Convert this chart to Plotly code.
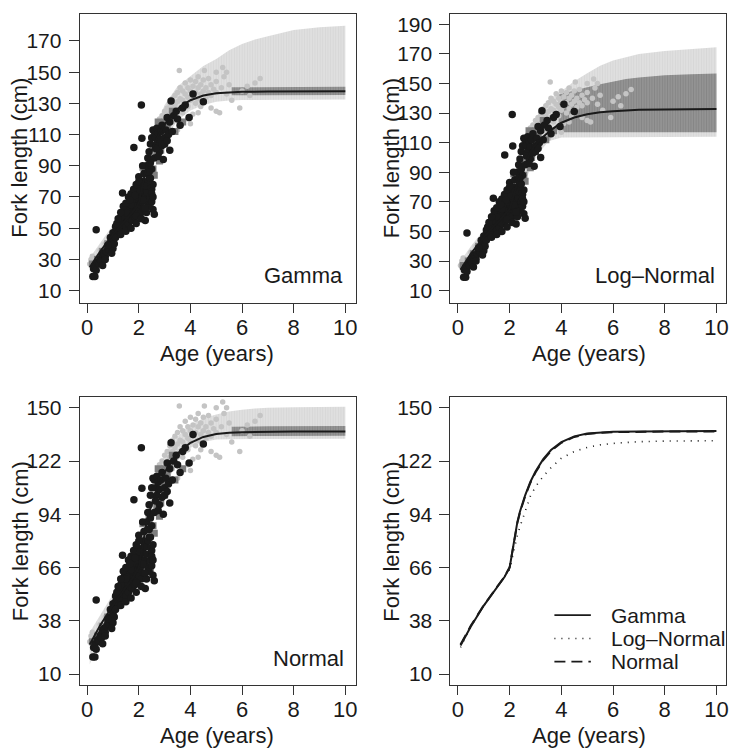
import plotly.graph_objects as go

# ---------------- data ----------------
CURVE_AGE = [0.1, 0.5, 1.0, 1.5, 1.8, 2.0, 2.1, 2.2, 2.3, 2.4, 2.6, 2.8, 3.0, 3.3, 3.6,
             4.0, 4.5, 5.0, 5.5, 6.0, 7.0, 8.0, 10.0]
GAMMA_MEAN = [25, 35, 46, 55.5, 61, 66, 74, 83, 90, 95.5, 104, 111, 116.5, 123, 127.8,
              132, 135, 136.5, 137.1, 137.4, 137.6, 137.7, 137.8]
LOGN_MEAN = [24, 35, 46, 55.5, 61, 65, 71, 78, 83, 87.5, 96, 103.5, 108.5, 114, 118.5,
             123.5, 127, 129.2, 130.5, 131.3, 132.2, 132.5, 132.7]
NORM_MEAN = [25.5, 35.5, 46.2, 55.7, 61.2, 66.2, 74, 82.5, 89.5, 95, 103.5, 110.5, 116, 122.5, 127.3,
             131.6, 134.7, 136.2, 136.9, 137.2, 137.4, 137.5, 137.6]

BAND_AGE = [0.1, 0.5, 1.0, 1.5, 2.0, 2.5, 3.0, 3.5, 4.0, 4.5, 5.0, 5.5, 6.0, 6.5, 7.0, 8.0, 9.0, 10.0]
GAMMA_LIGHT_HI = [31, 40, 52, 62, 74, 108, 129, 141, 147.5, 154, 158.5, 164, 168, 171, 173, 177, 178.8, 179.8]
GAMMA_LIGHT_LO = [22, 31, 41, 50, 58, 88, 107, 119, 125.5, 129, 131, 131.8, 132.1, 132.3, 132.4, 132.5, 132.5, 132.5]
LOGN_LIGHT_HI = [30, 40, 51, 61, 72, 100, 124, 139, 145, 151.5, 157, 162, 165.5, 168, 170, 172, 173.5, 174.5]
LOGN_LIGHT_LO = [20, 30, 40, 49, 57, 80, 100, 111, 113.5, 113.8, 114, 114, 114, 114, 114, 114, 114, 114]
NORM_LIGHT_HI = [32, 41, 52, 62, 74, 106, 126, 135, 141, 144.5, 146.5, 148, 149, 149.6, 150, 150.3, 150.4, 150.5]
NORM_LIGHT_LO = [15, 29, 40, 49, 58, 88, 108, 122, 129, 132, 133.3, 133.5, 133.6, 133.6, 133.7, 133.7, 133.7, 133.7]

GAMMA_DARK_AGE = [5.6, 7.0, 10.0]
GAMMA_DARK_HI = [140.3, 140.5, 140.6]
GAMMA_DARK_LO = [135.2, 135.3, 135.4]
LOGN_DARK_AGE = [3.9, 4.5, 5.0, 5.5, 6.0, 6.5, 7.0, 8.0, 9.0, 10.0]
LOGN_DARK_HI = [142.5, 145.5, 147.5, 149.5, 151.5, 153, 154, 155.5, 156.2, 156.7]
LOGN_DARK_LO = [117, 117, 117, 117, 117, 117, 117, 117, 117, 117]
NORM_DARK_AGE = [5.6, 7.0, 10.0]
NORM_DARK_HI = [140.0, 140.3, 140.5]
NORM_DARK_LO = [135.0, 135.2, 135.3]

BLACK_AGE = [0.22, 0.3, 0.25, 0.3, 0.35, 0.4, 0.45, 0.5, 0.35, 0.55, 0.6, 0.55, 0.65, 0.7, 0.75, 0.8,
             0.85, 0.9, 0.95, 1.0, 0.9, 1.0, 1.05, 1.1, 1.1, 1.15, 1.2, 1.2, 1.25, 1.3, 1.3, 1.35,
             1.35, 1.37, 1.4, 1.4, 1.45, 1.45, 1.5, 1.5, 1.55, 1.55, 1.6, 1.6, 1.6, 1.65, 1.65, 1.7,
             1.7, 1.7, 1.75, 1.75, 1.8, 1.8, 1.8, 1.81, 1.85, 1.85, 1.85, 1.9, 1.9, 1.9, 1.95, 1.95,
             2.0, 2.0, 2.0, 2.0, 2.05, 2.05, 2.1, 2.1, 2.1, 2.12, 2.15, 2.15, 2.2, 2.2, 2.2, 2.25,
             2.25, 2.3, 2.3, 2.35, 2.35, 2.4, 2.4, 2.45, 2.45, 2.5, 2.5, 2.5, 2.55, 2.55, 2.55, 2.6,
             2.6, 2.6, 2.65, 2.7, 2.7, 2.75, 2.8, 2.8, 2.85, 2.9, 2.9, 2.95, 3.0, 3.05, 3.1, 3.15,
             3.2, 3.2, 3.25, 3.3, 3.35, 3.5, 3.6, 3.7, 3.8, 3.95, 4.1, 4.5, 3.45, 2.25, 1.0, 0.95,
             1.05, 0.6, 0.7, 1.25, 1.45, 1.65, 1.75, 1.95, 2.05, 2.3, 2.4, 1.55, 1.15, 0.8, 2.65,
             2.45, 2.15, 1.9, 1.7, 1.5, 1.3, 2.35, 2.75, 3.0, 3.1,
             1.2, 1.3, 1.4, 1.5, 1.6, 1.7, 1.8, 1.9, 2.0, 1.1, 1.3, 1.5, 1.7, 1.9, 2.1, 2.3,
             2.4, 2.5, 2.2, 2.45, 2.5, 2.35, 2.05, 1.85, 1.65, 2.25, 2.55, 2.15]
BLACK_LEN = [19, 19, 24, 26, 23, 28, 27, 30, 49, 31, 33, 29, 34, 32, 35, 37,
             36, 40, 38, 42, 44, 47, 45, 48, 51, 50, 47, 52, 49, 53, 50, 55,
             60, 72.5, 52, 57, 54, 62, 56, 51, 59, 64, 58, 53, 66, 61, 56, 63,
             59, 67, 55, 62, 60, 65, 70, 101.7, 57, 63, 68, 61, 66, 72, 59, 64,
             62, 68, 76, 83, 65, 71, 60, 67, 129, 107.7, 74, 80, 63, 70, 85, 68,
             78, 73, 90, 95, 66, 82, 99, 70, 104, 75, 88, 108, 62, 78, 113, 59,
             112, 95, 108, 114, 104, 111, 107, 99, 112, 103, 116, 94, 108, 113, 121, 110,
             100, 118, 131.6, 112, 122, 120, 116, 127, 129, 121, 136, 131, 125, 55, 37, 34,
             40, 26, 30, 55, 58, 64, 68, 70, 73, 77, 86, 61, 53, 39, 101,
             92, 68, 58, 65, 60, 57, 80, 96, 104, 106,
             56, 60, 64, 66, 70, 72, 75, 78, 80, 44, 46, 48, 50, 53, 56, 60,
             64, 67, 77, 82, 72, 86, 74, 71, 68, 63, 70, 90]

GREY_AGE = [0.2, 0.4, 0.6, 0.8, 1.0, 1.2, 1.5, 1.8, 2.0, 2.2, 2.3, 2.4, 2.5, 2.6, 2.7, 2.8,
            2.9, 3.0, 3.1, 3.2, 2.35, 2.45, 2.55, 2.75, 3.0, 3.3, 3.4, 2.85, 2.16, 3.7]
GREY_LEN = [27, 30, 35, 40, 44, 48, 53, 58, 62, 68, 80, 92, 70, 84, 98, 93,
            110, 104, 115, 120, 86, 65, 88, 118, 118, 125, 112, 100, 89, 118]

LIGHT_AGE = [0.1, 0.15, 0.2, 0.25, 0.3, 0.5, 0.7, 2.6, 2.7, 2.75, 2.8, 2.9, 3.0, 3.0, 3.1, 3.1,
             3.2, 3.2, 3.3, 3.3, 3.3, 3.4, 3.4, 3.4, 3.5, 3.5, 3.5, 3.57, 3.6, 3.6, 3.6, 3.7,
             3.7, 3.7, 3.8, 3.8, 3.8, 3.9, 3.9, 3.9, 4.0, 4.0, 4.0, 4.09, 4.1, 4.1, 4.2, 4.2,
             4.2, 4.3, 4.3, 4.3, 4.4, 4.4, 4.4, 4.54, 4.5, 4.5, 4.5, 4.6, 4.6, 4.7, 4.7, 4.8,
             4.8, 4.8, 4.9, 5.0, 5.0, 5.0, 5.13, 5.2, 5.3, 5.4, 5.5, 5.6, 5.91, 6.0, 6.2, 6.5,
             6.7, 6.3, 5.25, 5.4, 5.0, 4.0, 3.5, 3.9, 4.3]
LIGHT_LEN = [27, 30, 32, 28, 31, 36, 40, 105, 112, 118, 120, 122, 125, 119, 127, 121,
             130, 124, 133, 127, 118, 135, 129, 123, 137, 131, 125, 151, 140, 133, 127, 138,
             132, 124, 143, 136, 130, 140, 134, 128, 145, 138, 132, 123, 141, 135, 144, 137,
             130, 147, 140, 133, 142, 136, 128, 151, 145, 138, 131, 140, 134, 146, 137, 142,
             135, 127, 139, 125, 144, 137, 124, 140, 147, 136, 142, 132, 127, 138, 141, 143,
             146, 135, 153, 150, 150, 117, 113, 120, 124]

X_TICKS = [0, 2, 4, 6, 8, 10]
Y_TICKS_GAMMA = [10, 30, 50, 70, 90, 110, 130, 150, 170]
Y_TICKS_LOGN = [10, 30, 50, 70, 90, 110, 130, 150, 170, 190]
Y_TICKS_NORM = [10, 38, 66, 94, 122, 150]

# ---------------- figure ----------------
W, H = 729, 749
FONT = "Liberation Sans, Arial, Helvetica, sans-serif"
INK = "#1a1a1a"
fig = go.Figure()

def px(v):
    return v / W

def py(v):
    return 1 - v / H

panels = {
    1: dict(x=(80, 357), y=(13, 302), yr=[2.3, 187.3], yt=Y_TICKS_GAMMA),
    2: dict(x=(452.3, 729), y=(13, 302), yr=[1.9, 197.0], yt=Y_TICKS_LOGN),
    3: dict(x=(80, 357), y=(396.7, 685), yr=[4.2, 155.6], yt=Y_TICKS_NORM),
    4: dict(x=(452.3, 729), y=(396.7, 685), yr=[4.2, 155.6], yt=Y_TICKS_NORM),
}
XR = {1: [-0.29, 10.395], 2: [-0.29, 10.37], 3: [-0.29, 10.395], 4: [-0.29, 10.37]}

layout = {}
for i, p in panels.items():
    xa = "xaxis" if i == 1 else f"xaxis{i}"
    ya = "yaxis" if i == 1 else f"yaxis{i}"
    layout[xa] = dict(domain=[px(p["x"][0]), px(p["x"][1])], range=XR[i],
                      anchor=f"y{'' if i == 1 else i}",
                      tickvals=X_TICKS, ticks="outside", ticklen=9, tickwidth=1,
                      tickcolor="#333", showline=True, linecolor="#333", linewidth=1,
                      mirror=True, showgrid=False, zeroline=False,
                      ticklabeloverflow="allow", ticklabelstandoff=-4,
                      tickfont=dict(family=FONT, size=22, color=INK))
    layout[ya] = dict(domain=[py(p["y"][1]), py(p["y"][0])], range=p["yr"],
                      anchor=f"x{'' if i == 1 else i}",
                      tickvals=p["yt"], ticks="outside", ticklen=10, tickwidth=1,
                      tickcolor="#333", showline=True, linecolor="#333", linewidth=1,
                      mirror=True, showgrid=False, zeroline=False, ticklabelstandoff=3,
                      ticklabeloverflow="allow",
                      tickfont=dict(family=FONT, size=21, color=INK))

def band(ages, hi, lo, xa, ya, bg, fg):
    fig.add_trace(go.Scatter(
        x=list(ages) + list(ages)[::-1], y=list(hi) + list(lo)[::-1],
        fill="toself", mode="lines", line=dict(width=0), fillcolor=bg,
        fillpattern=dict(shape="|", size=2.6, solidity=0.55, fgcolor=fg, bgcolor=bg),
        xaxis=xa, yaxis=ya, hoverinfo="skip", showlegend=False))

def points(xa, ya):
    fig.add_trace(go.Scatter(x=LIGHT_AGE, y=LIGHT_LEN, mode="markers",
                             marker=dict(color="#c4c4c4", size=5.5, symbol="circle"),
                             xaxis=xa, yaxis=ya, showlegend=False))
    fig.add_trace(go.Scatter(x=GREY_AGE, y=GREY_LEN, mode="markers",
                             marker=dict(color="#7d7d7d", size=7, symbol="square"),
                             xaxis=xa, yaxis=ya, showlegend=False))
    fig.add_trace(go.Scatter(x=BLACK_AGE, y=BLACK_LEN, mode="markers",
                             marker=dict(color=INK, size=7.5, symbol="circle"),
                             xaxis=xa, yaxis=ya, showlegend=False))

LIGHT_BG, LIGHT_FG = "#e2e2e2", "#cbcbcb"
DARK_BG, DARK_FG = "#9a9a9a", "#6f6f6f"

# Panel 1: Gamma
band(BAND_AGE, GAMMA_LIGHT_HI, GAMMA_LIGHT_LO, "x", "y", LIGHT_BG, LIGHT_FG)
band(GAMMA_DARK_AGE, GAMMA_DARK_HI, GAMMA_DARK_LO, "x", "y", DARK_BG, DARK_FG)
points("x", "y")
fig.add_trace(go.Scatter(x=CURVE_AGE, y=GAMMA_MEAN, mode="lines", line=dict(color=INK, width=2),
                         xaxis="x", yaxis="y", showlegend=False))
# Panel 2: Log-Normal
band(BAND_AGE, LOGN_LIGHT_HI, LOGN_LIGHT_LO, "x2", "y2", LIGHT_BG, LIGHT_FG)
band(LOGN_DARK_AGE, LOGN_DARK_HI, LOGN_DARK_LO, "x2", "y2", DARK_BG, DARK_FG)
points("x2", "y2")
fig.add_trace(go.Scatter(x=CURVE_AGE, y=LOGN_MEAN, mode="lines", line=dict(color=INK, width=2),
                         xaxis="x2", yaxis="y2", showlegend=False))
# Panel 3: Normal
band(BAND_AGE, NORM_LIGHT_HI, NORM_LIGHT_LO, "x3", "y3", LIGHT_BG, LIGHT_FG)
band(NORM_DARK_AGE, NORM_DARK_HI, NORM_DARK_LO, "x3", "y3", DARK_BG, DARK_FG)
points("x3", "y3")
fig.add_trace(go.Scatter(x=CURVE_AGE, y=NORM_MEAN, mode="lines", line=dict(color=INK, width=2),
                         xaxis="x3", yaxis="y3", showlegend=False))
# Panel 4: all three means
fig.add_trace(go.Scatter(x=CURVE_AGE, y=LOGN_MEAN, mode="lines",
                         line=dict(color=INK, width=1.6, dash="1px,6px"),
                         xaxis="x4", yaxis="y4", showlegend=False))
fig.add_trace(go.Scatter(x=CURVE_AGE, y=NORM_MEAN, mode="lines",
                         line=dict(color=INK, width=2, dash="11px,6px"),
                         xaxis="x4", yaxis="y4", showlegend=False))
fig.add_trace(go.Scatter(x=CURVE_AGE, y=GAMMA_MEAN, mode="lines", line=dict(color=INK, width=2),
                         xaxis="x4", yaxis="y4", showlegend=False))

annotations = []
def text(x, y, s, size=22, angle=0, xanchor="center"):
    annotations.append(dict(x=px(x), y=py(y), xref="paper", yref="paper", text=s,
                            showarrow=False, textangle=angle, xanchor=xanchor, yanchor="middle",
                            font=dict(family=FONT, size=size, color=INK)))

for cx, cy in [(20, 157), (393, 157), (20, 541), (393, 541)]:
    text(cx, cy, "Fork length (cm)", angle=-90)
for cx, cy in [(218, 353), (591.7, 353), (218, 735), (591.7, 735)]:
    text(cx, cy, "Age (years)")
text(346, 275, "Gamma", xanchor="right")
text(720, 275, "Log\u2013Normal", xanchor="right")
text(347, 658, "Normal", xanchor="right")

# legend of panel 4
LEG_LABELS = ["Gamma", "Log\u2013Normal", "Normal"]
LEG_DASH = ["solid", "dot", "dash"]
shapes = []
for k, (lab, dsh) in enumerate(zip(LEG_LABELS, LEG_DASH)):
    yy = 615 + 23.3 * k
    text(611.5, yy, lab, size=21, xanchor="left")
    shapes.append(dict(type="line", xref="paper", yref="paper", x0=px(556.7), x1=px(593.3),
                       y0=py(yy), y1=py(yy),
                       line=dict(color=INK, width=1.8 if dsh != "dot" else 1.5,
                                 dash={"solid": "solid", "dot": "1px,6px", "dash": "11px,6px"}[dsh])))

fig.update_layout(width=W, height=H, margin=dict(l=0, r=0, t=0, b=0),
                  paper_bgcolor="white", plot_bgcolor="white",
                  annotations=annotations, shapes=shapes, showlegend=False, **layout)
fig.write_html("out.html")
